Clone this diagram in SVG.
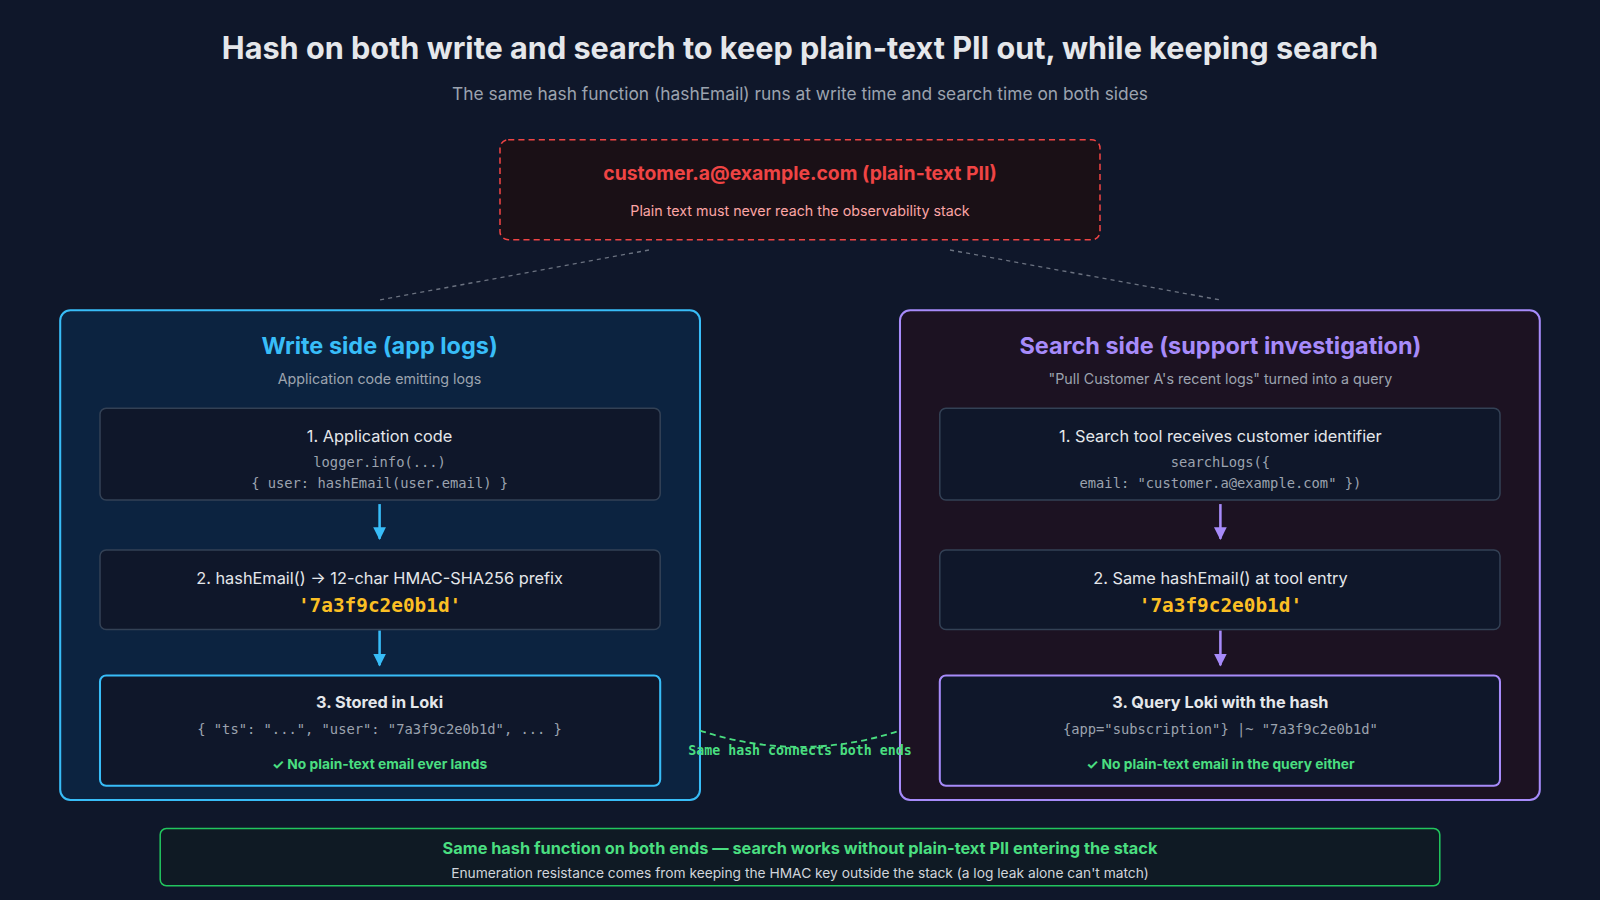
<svg xmlns="http://www.w3.org/2000/svg" width="1600" height="900" viewBox="0 0 1600 900">
<style>
.s{font-family:Inter,"Noto Sans","Liberation Sans",sans-serif}
.m{font-family:"DejaVu Sans Mono","Liberation Mono",monospace}
.box{fill:#0f172a;stroke:#334155;stroke-width:1.5}
.t{font-size:16px;fill:#e5e7eb;text-anchor:middle}
.c{font-size:13.5px;fill:#9ca3af;text-anchor:middle}
.h{font-size:19px;fill:#fbbf24;font-weight:bold;text-anchor:middle}
.ok{font-size:13.5px;fill:#4ade80;font-weight:bold;text-anchor:middle}
</style>
<defs>
<marker id="ab" viewBox="0 0 10 10" refX="9" refY="5" markerWidth="5" markerHeight="5" orient="auto"><path d="M0,0L10,5L0,10z" fill="#38bdf8"/></marker>
<marker id="ap" viewBox="0 0 10 10" refX="9" refY="5" markerWidth="5" markerHeight="5" orient="auto"><path d="M0,0L10,5L0,10z" fill="#a78bfa"/></marker>
</defs>
<rect width="1600" height="900" fill="#0f172a"/>
<g transform="scale(1.0204)">
<text class="s" x="784" y="58" font-size="30" font-weight="bold" fill="#e5e7eb" text-anchor="middle">Hash on both write and search to keep plain-text PII out, while keeping search</text>
<text class="s" x="784" y="98" font-size="17" fill="#9ca3af" text-anchor="middle">The same hash function (hashEmail) runs at write time and search time on both sides</text>
<g id="pii">
<rect x="490" y="137" width="588" height="98" rx="8" fill="#1a1016" stroke="#ef4444" stroke-width="1.5" stroke-dasharray="6,4"/>
<text class="s" x="784" y="176" font-size="19" font-weight="bold" fill="#ef4444" text-anchor="middle">customer.a@example.com (plain-text PII)</text>
<text class="s" x="784" y="212" font-size="14" fill="#fca5a5" text-anchor="middle">Plain text must never reach the observability stack</text>
</g>
<g id="write">
<rect x="59" y="304" width="627" height="480" rx="10" fill="#0c2340" stroke="#38bdf8" stroke-width="2"/>
<text class="s" x="372" y="347" font-size="23" font-weight="bold" fill="#38bdf8" text-anchor="middle">Write side (app logs)</text>
<text class="s" x="372" y="376" font-size="14" fill="#9ca3af" text-anchor="middle">Application code emitting logs</text>
</g>
<g id="w1"><rect class="box" x="98" y="400" width="549" height="90" rx="6"/>
<text class="s t" x="372" y="433">1. Application code</text>
<text class="m c" x="372" y="458">logger.info(...)</text>
<text class="m c" x="372" y="478">{ user: hashEmail(user.email) }</text></g>
<g id="w2"><rect class="box" x="98" y="539" width="549" height="78" rx="6"/>
<text class="s t" x="372" y="572">2. hashEmail() → 12-char HMAC-SHA256 prefix</text>
<text class="m h" x="372" y="600">'7a3f9c2e0b1d'</text></g>
<g id="w3"><rect x="98" y="662" width="549" height="108" rx="6" fill="#0f172a" stroke="#38bdf8" stroke-width="2"/>
<text class="s t" x="372" y="694" font-weight="bold">3. Stored in Loki</text>
<text class="m c" x="372" y="719">{ "ts": "...", "user": "7a3f9c2e0b1d", ... }</text>
<text class="s ok" x="372" y="754">✓ No plain-text email ever lands</text></g>
<g id="search">
<rect x="882" y="304" width="627" height="480" rx="10" fill="#1c1222" stroke="#a78bfa" stroke-width="2"/>
<text class="s" x="1196" y="347" font-size="23" font-weight="bold" fill="#a78bfa" text-anchor="middle">Search side (support investigation)</text>
<text class="s" x="1196" y="376" font-size="14" fill="#9ca3af" text-anchor="middle">"Pull Customer A's recent logs" turned into a query</text>
</g>
<g id="s1"><rect class="box" x="921" y="400" width="549" height="90" rx="6"/>
<text class="s t" x="1196" y="433">1. Search tool receives customer identifier</text>
<text class="m c" x="1196" y="458">searchLogs({</text>
<text class="m c" x="1196" y="478">email: "customer.a@example.com" })</text></g>
<g id="s2"><rect class="box" x="921" y="539" width="549" height="78" rx="6"/>
<text class="s t" x="1196" y="572">2. Same hashEmail() at tool entry</text>
<text class="m h" x="1196" y="600">'7a3f9c2e0b1d'</text></g>
<g id="s3"><rect x="921" y="662" width="549" height="108" rx="6" fill="#0f172a" stroke="#a78bfa" stroke-width="2"/>
<text class="s t" x="1196" y="694" font-weight="bold">3. Query Loki with the hash</text>
<text class="m c" x="1196" y="719">{app="subscription"} |~ "7a3f9c2e0b1d"</text>
<text class="s ok" x="1196" y="754">✓ No plain-text email in the query either</text></g>
<g id="connectors" fill="none">
<path d="M636,245L372,294M931,245L1196,294" stroke="#6b7280" stroke-width="1.3" stroke-dasharray="4,4"/>
<path d="M372,494V528" stroke="#38bdf8" stroke-width="2.5" marker-end="url(#ab)"/>
<path d="M372,618V652" stroke="#38bdf8" stroke-width="2.5" marker-end="url(#ab)"/>
<path d="M1196,494V528" stroke="#a78bfa" stroke-width="2.5" marker-end="url(#ap)"/>
<path d="M1196,618V652" stroke="#a78bfa" stroke-width="2.5" marker-end="url(#ap)"/>
<path d="M686,716Q784,748 882,716" stroke="#4ade80" stroke-width="1.8" stroke-dasharray="6,4"/>
<text class="m" x="784" y="740" font-size="13" font-weight="bold" fill="#4ade80" text-anchor="middle">Same hash connects both ends</text>
</g>
<g id="summary">
<rect x="157" y="812" width="1254" height="56" rx="6" fill="#0f1a24" stroke="#22c55e" stroke-width="1.5"/>
<text class="s" x="784" y="837" font-size="16" font-weight="bold" fill="#4ade80" text-anchor="middle">Same hash function on both ends — search works without plain-text PII entering the stack</text>
<text class="s" x="784" y="860" font-size="13.5" fill="#d1d5db" text-anchor="middle">Enumeration resistance comes from keeping the HMAC key outside the stack (a log leak alone can't match)</text>
</g>
</g>
</svg>
